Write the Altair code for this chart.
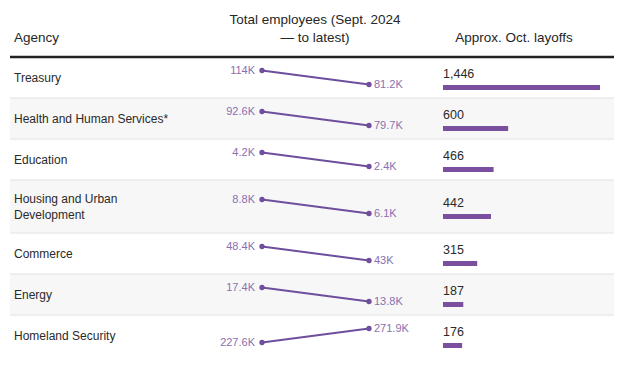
import altair as alt
import pandas as pd

# ---- data ----
agencies = [
    "Treasury",
    "Health and Human Services*",
    "Education",
    "Housing and Urban\nDevelopment",
    "Commerce",
    "Energy",
    "Homeland Security",
]
sept_2024_k = [114, 92.6, 4.2, 8.8, 48.4, 17.4, 227.6]
latest_k = [81.2, 79.7, 2.4, 6.1, 43, 13.8, 271.9]
oct_layoffs = [1446, 600, 466, 442, 315, 187, 176]

# ---- layout helpers (row geometry derived from label line count) ----
HEADER = 49
BASE_ROW = 41
EXTRA_LINE = 12
LINE_H = 16
W = 604
H = 350

rows = pd.DataFrame({
    "agency": agencies,
    "sept": sept_2024_k,
    "latest": latest_k,
    "layoffs": oct_layoffs,
})
rows["idx"] = range(len(rows))
rows["lines"] = rows["agency"].str.count("\n") + 1
rows["rh"] = BASE_ROW + (rows["lines"] - 1) * EXTRA_LINE
rows["top"] = HEADER + rows["rh"].cumsum() - rows["rh"]
rows["bottom"] = rows["top"] + rows["rh"]
rows["mid"] = (rows["top"] + rows["bottom"]) / 2
rows["agency_y"] = rows["mid"] - (rows["lines"] - 1) * LINE_H / 2
rows["label_y"] = rows["mid"] - 4
rows["bar_y"] = rows["mid"] + 7.5
rows["bar_y2"] = rows["mid"] + 12.5
rows["zero"] = 0
rows["layoff_txt"] = rows["layoffs"].map(lambda v: f"{v:,}")

long_rows = []
for _, r in rows.iterrows():
    hi = max(r["sept"], r["latest"])
    for period, v in (("start", r["sept"]), ("end", r["latest"])):
        long_rows.append({
            "agency": r["agency"],
            "period": period,
            "value": v,
            "txt": f"{v:g}K",
            "py": r["mid"] - 7 if v == hi else r["mid"] + 7,
        })
slope = pd.DataFrame(long_rows)

yscale = alt.Scale(domain=[0, H], range=[0, H])
Y = lambda f: alt.Y(f, type="quantitative", scale=yscale, axis=None)
FONT = "Liberation Sans"
PURPLE = "#6f4e9e"
LABEL_PURPLE = "#8a6fb0"

base = alt.Chart(rows)

bg = base.transform_filter("datum.idx % 2 == 1").mark_rect(color="#f7f7f7").encode(
    x=alt.value(0), x2=alt.value(W), y=Y("top"), y2=alt.Y2("bottom")
)
seps = base.transform_filter(f"datum.idx < {len(agencies) - 1}").mark_rule(
    color="#e2e2e2", strokeWidth=1
).encode(x=alt.value(0), x2=alt.value(W), y=Y("bottom"))

header_line = base.transform_filter("datum.idx == 0").mark_rule(
    color="#222222", strokeWidth=2.5
).encode(x=alt.value(0), x2=alt.value(W), y=alt.value(HEADER))

hdr = pd.DataFrame({
    "t": ["Agency", "Total employees (Sept. 2024\n— to latest)", "Approx. Oct. layoffs"],
})
h_agency = alt.Chart(hdr).transform_filter("datum.t == 'Agency'").mark_text(
    align="left", baseline="middle", font=FONT, fontSize=13.5, color="#262626"
).encode(x=alt.value(4), y=alt.value(30), text="t:N")
h_mid = alt.Chart(hdr).transform_filter("indexof(datum.t, 'Total') == 0").mark_text(
    align="center", baseline="middle", font=FONT, fontSize=13.5, color="#262626",
    lineBreak="\n", lineHeight=18
).encode(x=alt.value(305), y=alt.value(12), text="t:N")
h_lay = alt.Chart(hdr).transform_filter("indexof(datum.t, 'Approx') == 0").mark_text(
    align="center", baseline="middle", font=FONT, fontSize=13.5, color="#262626"
).encode(x=alt.value(504), y=alt.value(30), text="t:N")

agency_txt = base.mark_text(
    align="left", baseline="middle", font=FONT, fontSize=12, color="#2a2a2a",
    lineBreak="\n", lineHeight=LINE_H
).encode(x=alt.value(4), y=Y("agency_y"), text="agency:N")

xs = alt.Scale(domain=["start", "end"], range=[252, 359], padding=0)
sl = alt.Chart(slope)
lines = sl.mark_line(color=PURPLE, strokeWidth=2).encode(
    x=alt.X("period:N", scale=xs, axis=None), y=Y("py"), detail="agency:N"
)
pts = sl.mark_circle(color=PURPLE, size=28, opacity=1).encode(
    x=alt.X("period:N", scale=xs, axis=None), y=Y("py")
)
lbl_start = sl.transform_filter("datum.period == 'start'").mark_text(
    align="right", baseline="middle", dx=-7, font=FONT, fontSize=11, color=LABEL_PURPLE
).encode(x=alt.X("period:N", scale=xs, axis=None), y=Y("py"), text="txt:N")
lbl_end = sl.transform_filter("datum.period == 'end'").mark_text(
    align="left", baseline="middle", dx=5, font=FONT, fontSize=11, color=LABEL_PURPLE
).encode(x=alt.X("period:N", scale=xs, axis=None), y=Y("py"), text="txt:N")

bx = alt.Scale(domain=[0, max(oct_layoffs)], range=[433, 590])
bars = base.mark_rect(color="#7a4fa0").encode(
    x=alt.X("zero:Q", scale=bx, axis=None), x2="layoffs:Q", y=Y("bar_y"), y2="bar_y2:Q"
)
bar_lbl = base.mark_text(
    align="left", baseline="middle", font=FONT, fontSize=12.5, color="#2a2a2a"
).encode(x=alt.value(433), y=Y("label_y"), text="layoff_txt:N")

chart = alt.layer(
    bg, seps, header_line, h_agency, h_mid, h_lay, agency_txt,
    lines, pts, lbl_start, lbl_end, bars, bar_lbl
).resolve_scale(x="independent").properties(
    width=W, height=H, padding=0
).configure_view(stroke=None)

chart.save("out.html", embed_options={"renderer": "svg", "actions": False})
